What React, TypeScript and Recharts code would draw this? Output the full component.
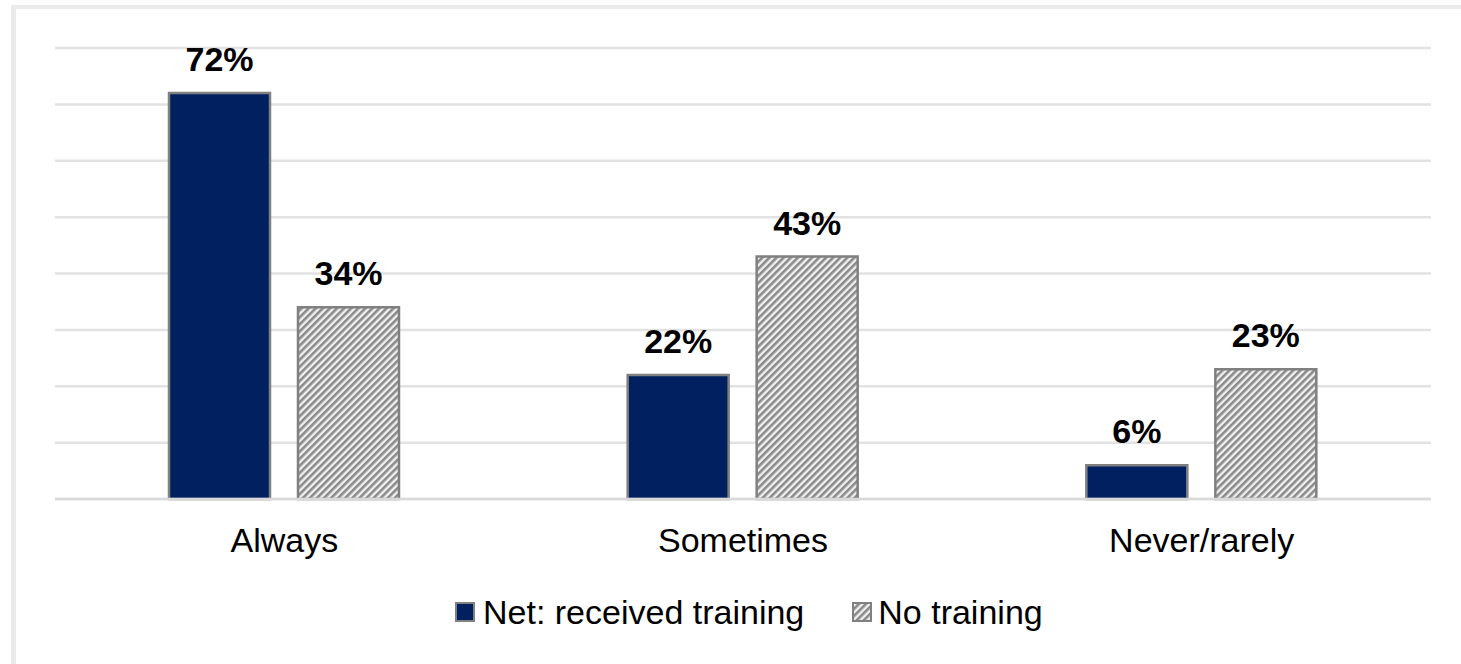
import React from 'react';
import {
    BarChart,
    Bar,
    XAxis,
    YAxis,
    CartesianGrid,
    LabelList,
} from 'recharts';

const categories = ['Always', 'Sometimes', 'Never/rarely'];
const trainedValues = [72, 22, 6];
const untrainedValues = [34, 43, 23];
const seriesNames = ['Net: received training', 'No training'];
const yTicks = [0, 10, 20, 30, 40, 50, 60, 70, 80];

const data = categories.map((category, i) => ({
    category,
    trained: trainedValues[i],
    untrained: untrainedValues[i],
}));

const FONT = '"Liberation Sans", Arial, sans-serif';
const NAVY = '#002060';
const EDGE = '#808080';

const HatchPattern = ({ id }: { id: string }) => (
    <pattern id={id} width="5" height="5" patternUnits="userSpaceOnUse" patternTransform="rotate(45)">
        <rect width="5" height="5" fill="#f0f0f0" />
        <rect width="2.6" height="5" fill="#8a8a8a" />
    </pattern>
);

const ChartLegend = () => (
    <div
        style={{
            position: 'absolute',
            left: 455,
            top: 592,
            display: 'flex',
            alignItems: 'center',
            fontFamily: FONT,
            fontSize: 34,
            color: '#000',
            lineHeight: '40px',
            whiteSpace: 'nowrap',
        }}
    >
        <svg width={20} height={20} style={{ marginRight: 8 }}>
            <rect x={1} y={1} width={18} height={18} fill={NAVY} stroke={EDGE} strokeWidth={2} />
        </svg>
        <span style={{ marginRight: 48 }}>{seriesNames[0]}</span>
        <svg width={20} height={20} style={{ marginRight: 6 }}>
            <defs>
                <HatchPattern id="hatch-legend" />
            </defs>
            <rect x={1} y={1} width={18} height={18} fill="url(#hatch-legend)" stroke={EDGE} strokeWidth={2} />
        </svg>
        <span>{seriesNames[1]}</span>
    </div>
);

export default function App() {
    return (
        <div
            style={{
                position: 'fixed',
                left: 0,
                top: 0,
                width: 1461,
                height: 664,
                background: '#fff',
                overflow: 'hidden',
            }}
        >
            <div
                style={{
                    position: 'absolute',
                    left: 11,
                    top: 5,
                    width: 2000,
                    height: 1000,
                    borderLeft: '5px solid #ebebeb',
                    borderTop: '4px solid #ebebeb',
                }}
            />
            <div style={{ position: 'absolute', left: 0, top: 0 }}>
                <BarChart
                    width={1461}
                    height={664}
                    data={data}
                    margin={{ top: 48, right: 30, bottom: 105, left: 55 }}
                    barGap={28}
                >
                    <defs>
                        <HatchPattern id="hatch" />
                    </defs>
                    <CartesianGrid vertical={false} stroke="#e2e2e2" strokeWidth={2.5} />
                    <YAxis hide domain={[0, 80]} ticks={yTicks} />
                    <XAxis
                        dataKey="category"
                        height={60}
                        tickLine={false}
                        axisLine={{ stroke: '#d9d9d9', strokeWidth: 2.5 }}
                        tickSize={0}
                        tickMargin={29}
                        tick={{ fill: '#000', fontSize: 34, fontFamily: FONT }}
                    />
                    <Bar
                        dataKey="trained"
                        name={seriesNames[0]}
                        fill={NAVY}
                        stroke={EDGE}
                        strokeWidth={2.5}
                        barSize={101}
                        isAnimationActive={false}
                    >
                        <LabelList
                            dataKey="trained"
                            position="top"
                            offset={22}
                            formatter={(v: number) => `${v}%`}
                            style={{ fill: '#000', fontSize: 34, fontWeight: 700, fontFamily: FONT }}
                        />
                    </Bar>
                    <Bar
                        dataKey="untrained"
                        name={seriesNames[1]}
                        fill="url(#hatch)"
                        stroke={EDGE}
                        strokeWidth={2.5}
                        barSize={101}
                        isAnimationActive={false}
                    >
                        <LabelList
                            dataKey="untrained"
                            position="top"
                            offset={22}
                            formatter={(v: number) => `${v}%`}
                            style={{ fill: '#000', fontSize: 34, fontWeight: 700, fontFamily: FONT }}
                        />
                    </Bar>
                </BarChart>
            </div>
            <ChartLegend />
        </div>
    );
}
